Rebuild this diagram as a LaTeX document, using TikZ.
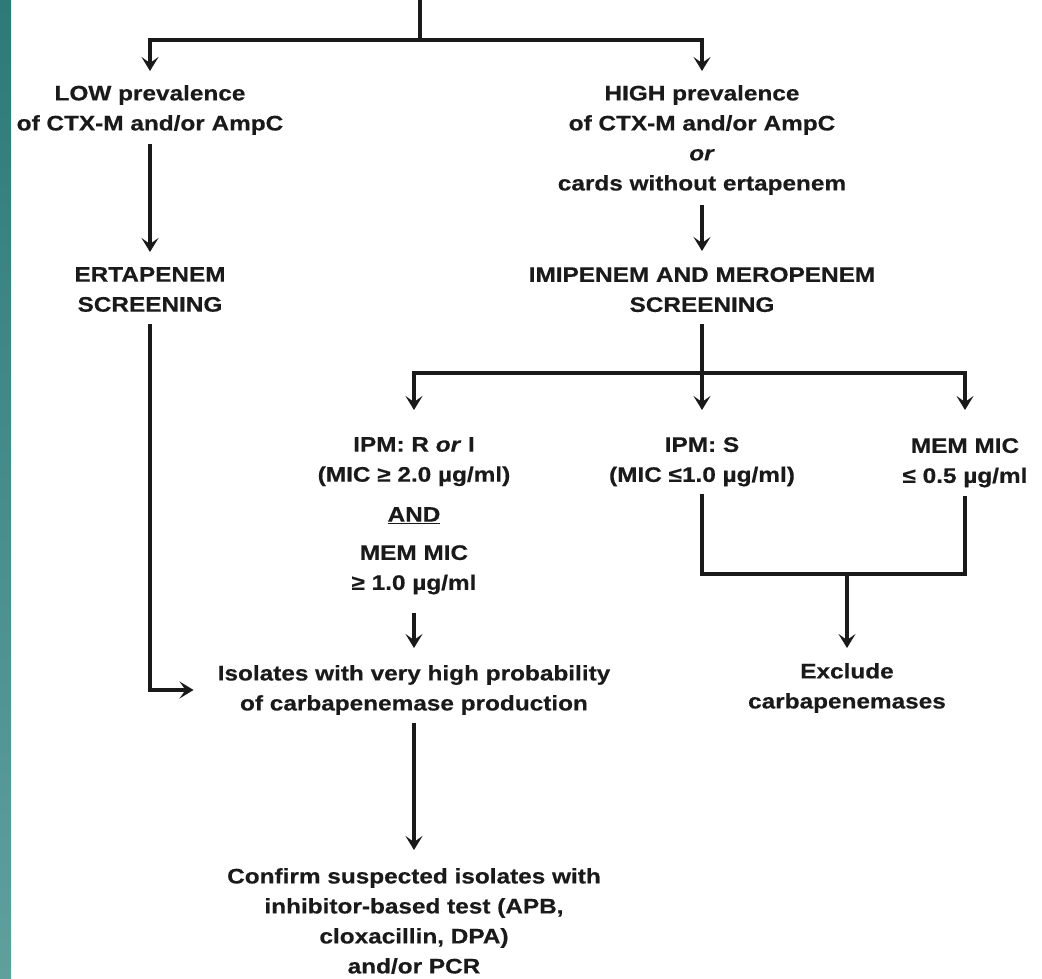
\documentclass[tikz,border=0pt]{standalone}
\usepackage{fontspec}
\setmainfont[FakeStretch=1.16,FakeBold=0.5]{Liberation Sans}
\usetikzlibrary{arrows.meta}
\definecolor{ink}{HTML}{1A1A1A}
\definecolor{tealtop}{HTML}{2D7A77}
\definecolor{tealbot}{HTML}{5FA09D}
\begin{document}
\begin{tikzpicture}[x=1pt,y=-1pt,
  txt/.style={anchor=north,inner sep=0pt,align=center,text=ink,
    font=\fontsize{21}{30}\selectfont\bfseries},
  link/.style={draw=ink,line width=3.4pt},
  arr/.style={link,-{Stealth[length=14pt,width=17pt,inset=6pt]}}]
\useasboundingbox (0,0) rectangle (1042,979);
\shade[top color=tealtop,bottom color=tealbot] (0,0) rectangle (11,979);

\node[txt] (low) at (150,85) {LOW prevalence\\of CTX-M and/or AmpC};
\node[txt] (high) at (702,85) {HIGH prevalence\\of CTX-M and/or AmpC\\\textit{or}\\cards without ertapenem};
\node[txt] (ert) at (150,267) {ERTAPENEM\\SCREENING};
\node[txt] (imi) at (702,267) {IMIPENEM AND MEROPENEM\\SCREENING};
\node[txt] (ipmr) at (414,437) {IPM: R \textit{or} I\\(MIC ≥ 2.0 µg/ml)};
\node[txt] (and) at (414,507) {\underline{AND}};
\node[txt] (memge) at (414,545) {MEM MIC\\≥ 1.0 µg/ml};
\node[txt] (ipms) at (702,437) {IPM: S\\(MIC ≤1.0 µg/ml)};
\node[txt] (memle) at (965,438) {MEM MIC\\≤ 0.5 µg/ml};
\node[txt] (iso) at (414,665) {Isolates with very high probability\\of carbapenemase production};
\node[txt] (excl) at (847,663) {Exclude\\carbapenemases};
\node[txt] (conf) at (414,868) {Confirm suspected isolates with\\inhibitor-based test (APB,\\cloxacillin, DPA)\\and/or PCR};

\coordinate (top) at (420,0);
\coordinate (s1) at (420,40);
\coordinate (s2) at (702,373);
\coordinate (j) at (847,574);

\draw[link] (top) -- (s1);
\draw[arr,shorten >=14pt] (s1) -| (low);
\draw[arr,shorten >=14pt] (s1) -| (high);
\draw[arr,shorten <=9pt,shorten >=15pt] (low) -- (ert);
\draw[arr,shorten <=10pt,shorten >=16pt] (high) -- (imi);
\draw[arr,shorten <=12pt,shorten >=24pt] (ert) |- (iso);
\draw[link,shorten <=12pt] (imi) -- (s2);
\draw[arr,shorten >=27pt] (s2) -| (ipmr);
\draw[arr,shorten >=27pt] (s2) -- (ipms);
\draw[arr,shorten >=28pt] (s2) -| (memle);
\draw[arr,shorten <=18pt,shorten >=17pt] (memge) -- (iso);
\draw[link] ([yshift=-7pt]ipms.south) |- (j) -| ([yshift=-8pt]memle.south);
\draw[arr,shorten >=15pt] (j) -- (excl);
\draw[arr,shorten <=8pt,shorten >=18pt] (iso) -- (conf);
\end{tikzpicture}
\end{document}
